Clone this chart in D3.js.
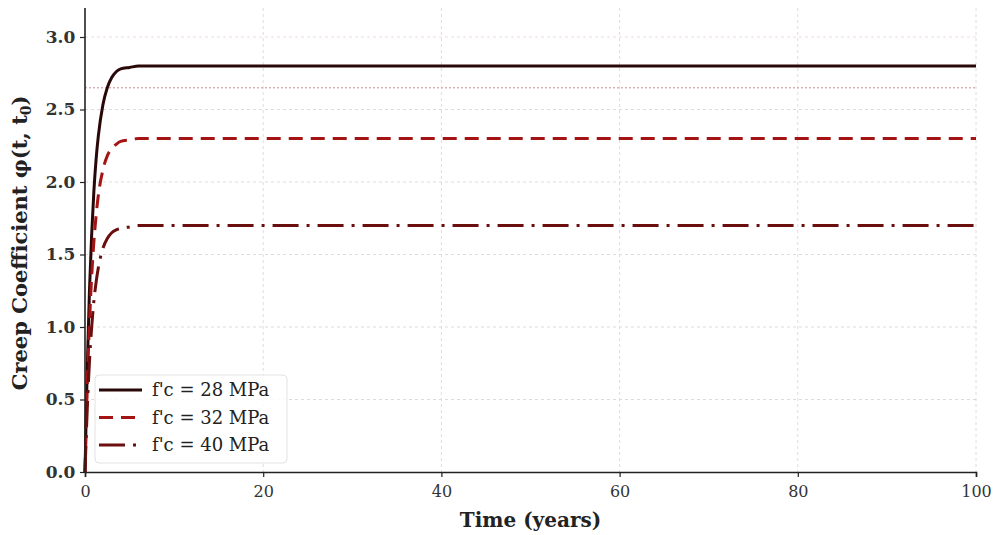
<!DOCTYPE html>
<html>
<head>
<meta charset="utf-8">
<script src="https://cdn.jsdelivr.net/npm/d3@7"></script>
<style>
  body { margin: 0; background: #fff; }
  svg { display: block; font-family: "DejaVu Serif", serif; }
</style>
</head>
<body>
<svg id="chart" width="997" height="535"></svg>
<script>
// time points (years) and creep coefficient
var years = [0, 0.25, 0.5, 0.75, 1, 1.25, 1.5, 2, 2.5, 3, 3.5, 4, 5, 6, 8, 10, 20, 40, 60, 80, 100];
var phi28 = [0, 0.71, 1.25, 1.64, 1.94, 2.16, 2.32, 2.53, 2.65, 2.72, 2.76, 2.78, 2.79, 2.80, 2.80, 2.80, 2.80, 2.80, 2.80, 2.80, 2.80];
var phi32 = [0, 0.59, 1.02, 1.35, 1.59, 1.77, 1.91, 2.08, 2.18, 2.23, 2.26, 2.28, 2.29, 2.30, 2.30, 2.30, 2.30, 2.30, 2.30, 2.30, 2.30];
var phi40 = [0, 0.43, 0.76, 1.00, 1.18, 1.31, 1.41, 1.54, 1.61, 1.65, 1.67, 1.68, 1.69, 1.70, 1.70, 1.70, 1.70, 1.70, 1.70, 1.70, 1.70];
var seriesNames = ["f'c = 28 MPa", "f'c = 32 MPa", "f'c = 40 MPa"];
var refLine = 2.65;
var xTicks = [0, 20, 40, 60, 80, 100];
var yTicks = [0, 0.5, 1.0, 1.5, 2.0, 2.5, 3.0];

var svg = d3.select("#chart");
var margin = {left: 85, right: 21, top: 8, bottom: 63};
var width = 997 - margin.left - margin.right;
var height = 535 - margin.top - margin.bottom;

var x = d3.scaleLinear().domain([0, 100]).range([margin.left, margin.left + width]);
var y = d3.scaleLinear().domain([0, 3.2]).range([margin.top + height, margin.top]);

// grid
var grid = svg.append("g");
grid.selectAll(".gx").data(xTicks.slice(1)).enter().append("line")
    .attr("x1", function(d){ return x(d); }).attr("x2", function(d){ return x(d); })
    .attr("y1", y(3.2)).attr("y2", y(0))
    .attr("stroke", "#e2dada").attr("stroke-width", 1).attr("stroke-dasharray", "3,3");
grid.selectAll(".gy").data(yTicks.slice(1)).enter().append("line")
    .attr("x1", x(0)).attr("x2", x(100))
    .attr("y1", function(d){ return y(d); }).attr("y2", function(d){ return y(d); })
    .attr("stroke", function(d){ return d == 3.0 ? "#f2dcdc" : "#e2dada"; })
    .attr("stroke-width", 1).attr("stroke-dasharray", "3,3");

// reference line
svg.append("line")
    .attr("x1", x(0)).attr("x2", x(100))
    .attr("y1", y(refLine)).attr("y2", y(refLine))
    .attr("stroke", "#d9b3b3").attr("stroke-width", 1.5).attr("stroke-dasharray", "2,2");

var series = [
    {name: seriesNames[0], values: phi28, color: "#2a0808", dash: null},
    {name: seriesNames[1], values: phi32, color: "#a51414", dash: "14,8"},
    {name: seriesNames[2], values: phi40, color: "#6b0e0e", dash: "26,8,3,8"}
];

var line = d3.line()
    .curve(d3.curveMonotoneX)
    .x(function(d){ return x(d[0]); })
    .y(function(d){ return y(d[1]); });

series.forEach(function(s){
    svg.append("path")
        .datum(d3.zip(years, s.values))
        .attr("d", line)
        .attr("fill", "none")
        .attr("stroke", s.color)
        .attr("stroke-width", 3)
        .attr("stroke-dasharray", s.dash);
});

// axes
var xAxis = svg.append("g")
    .attr("transform", "translate(0," + y(0) + ")")
    .call(d3.axisBottom(x).tickValues(xTicks).tickFormat(d3.format("d")).tickSizeOuter(0).tickSize(5));
var yAxis = svg.append("g")
    .attr("transform", "translate(" + x(0) + ",0)")
    .call(d3.axisLeft(y).tickValues(yTicks).tickFormat(d3.format(".1f")).tickSizeOuter(0).tickSize(5));

[xAxis, yAxis].forEach(function(a){
    a.select(".domain").attr("stroke", "#222").attr("stroke-width", 1.6);
    a.selectAll(".tick line").attr("stroke", "#222").attr("stroke-width", 1.2);
    a.selectAll(".tick text")
        .attr("fill", "#333")
        .style("font-family", "DejaVu Serif, serif")
        .style("font-size", "16px");
});
xAxis.selectAll(".tick text").attr("dy", "1.05em");
yAxis.selectAll(".tick text").style("font-weight", "bold").style("font-size", "17px").attr("dx", "-0.1em");
yAxis.select(".domain").attr("d", "M0," + y(0) + "V" + y(3.2));

// axis labels
svg.append("text")
    .attr("x", x(50)).attr("y", 527)
    .attr("text-anchor", "middle")
    .style("font-size", "20px").style("font-weight", "bold").attr("fill", "#222")
    .text("Time (years)");

var yl = svg.append("text")
    .attr("transform", "translate(27," + y(1.58) + ") rotate(-90)")
    .attr("text-anchor", "middle")
    .style("font-size", "21px").style("font-weight", "bold").attr("fill", "#222");
yl.append("tspan").text("Creep Coefficient \u03c6(t, t");
yl.append("tspan").attr("baseline-shift", "-25%").style("font-size", "14px").text("0");
yl.append("tspan").text(")");

// legend
var lg = svg.append("g").attr("transform", "translate(95,375)");
lg.append("rect")
    .attr("width", 192).attr("height", 88).attr("rx", 4)
    .attr("fill", "#fff").attr("fill-opacity", 0.85)
    .attr("stroke", "#e2e2e2");
series.forEach(function(s, i){
    var yy = 15 + i * 27.5;
    lg.append("line")
        .attr("x1", 4).attr("x2", 47).attr("y1", yy).attr("y2", yy)
        .attr("stroke", s.color).attr("stroke-width", 3)
        .attr("stroke-dasharray", i == 2 ? "26,8,3,8" : s.dash);
    lg.append("text")
        .attr("x", 57).attr("y", yy + 6)
        .style("font-size", "18px").attr("fill", "#222")
        .text(s.name);
});
</script>
</body>
</html>
